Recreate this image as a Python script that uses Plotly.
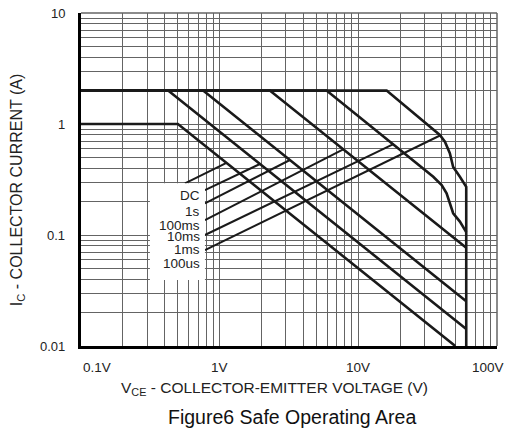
import math
import plotly.graph_objects as go

# ---- Safe operating area curves: collector-emitter voltage (V) vs collector current (A)
dc_v = [0.1, 0.5, 50]
dc_i = [1.0, 1.0, 0.01]

s1_v = [0.1, 0.425, 60]
s1_i = [2.0, 2.0, 0.0142]

ms100_v = [0.1, 0.76, 60]
ms100_i = [2.0, 2.0, 0.0253]

ms10_v = [0.1, 2.3, 60]
ms10_i = [2.0, 2.0, 0.0767]

ms1_v = [0.1, 5.9, 34.7, 39.9, 43.3, 45.7, 48.3, 54.0, 60]
ms1_i = [2.0, 2.0, 0.335, 0.282, 0.2375, 0.193, 0.157, 0.132, 0.106]

us100_v = [0.1, 16.0, 38.7, 42.1, 45.7, 47.0, 48.3, 54.0, 60, 60]
us100_i = [2.0, 2.0, 0.796, 0.693, 0.545, 0.457, 0.41, 0.335, 0.272, 0.01]

# ---- Curve labels and their leader lines (start / end points in V, A)
label_names = ["DC", "1s", "100ms", "10ms", "1ms", "100us"]
leader_start_v = [0.562, 0.783, 0.783, 0.783, 0.783, 0.783]
leader_start_i = [0.292, 0.254, 0.193, 0.136, 0.100, 0.073]
leader_end_v = [1.12, 1.95, 3.21, 7.78, 17.9, 39.8]
leader_end_i = [0.446, 0.436, 0.474, 0.59, 0.66, 0.80]

# ---- Axis ticks
x_tick_values = [0.1, 1, 10, 100]
x_tick_labels = ["0.1V", "1V", "10V", "100V"]
y_tick_values = [10, 1, 0.1, 0.01]
y_tick_labels = ["10", "1", "0.1", "0.01"]

# ---- Styling / placement
FONT = "Liberation Sans, Arial, Helvetica, sans-serif"
GRID = "#646464"
INK = "#1a1a1a"
CURVE_W = 2.6
LEADER_W = 2.0
label_anchor_v = 0.728
label_center_i = [0.229, 0.162, 0.123, 0.0966, 0.0733, 0.0556]
box_v = (0.314, 0.783)
box_i = (0.0393, 0.292)

grid_x = [m * 10 ** e for e in (-1, 0, 1) for m in range(1, 10)] + [100]
grid_y = [m * 10 ** e for e in (-2, -1, 0) for m in range(1, 10)] + [10]

fig = go.Figure()

for vv, ii in [(dc_v, dc_i), (s1_v, s1_i), (ms100_v, ms100_i),
               (ms10_v, ms10_i), (ms1_v, ms1_i), (us100_v, us100_i)]:
    fig.add_trace(go.Scatter(x=vv, y=ii, mode="lines",
                             line=dict(color=INK, width=CURVE_W),
                             hoverinfo="skip"))

for sv, si, ev, ei in zip(leader_start_v, leader_start_i, leader_end_v, leader_end_i):
    fig.add_trace(go.Scatter(x=[sv, ev], y=[si, ei], mode="lines",
                             line=dict(color=INK, width=LEADER_W),
                             hoverinfo="skip"))

# white panel behind the curve labels
fig.add_trace(go.Scatter(
    x=[box_v[0], box_v[1], box_v[1], box_v[0], box_v[0]],
    y=[box_i[0], box_i[0], box_i[1], box_i[1], box_i[0]],
    mode="lines", fill="toself", fillcolor="white",
    line=dict(color="white", width=0), hoverinfo="skip"))

annotations = []
for name, yi in zip(label_names, label_center_i):
    annotations.append(dict(x=math.log10(label_anchor_v), y=math.log10(yi),
                            xref="x", yref="y", text=name, showarrow=False,
                            xanchor="right", yanchor="middle", borderpad=0,
                            font=dict(family=FONT, size=13.5, color="#222")))

for k, (v, t) in enumerate(zip(x_tick_values, x_tick_labels)):
    anchor = "left" if k == 0 else ("right" if k == len(x_tick_values) - 1 else "center")
    shift = 9 if anchor == "right" else 0
    annotations.append(dict(x=math.log10(v), y=0, xref="x", yref="paper",
                            text=t, showarrow=False, xanchor=anchor,
                            xshift=shift, yanchor="middle", yshift=-21,
                            font=dict(family=FONT, size=13.5, color="#222")))

for v, t in zip(y_tick_values, y_tick_labels):
    annotations.append(dict(x=0, y=math.log10(v), xref="paper", yref="y",
                            text=t, showarrow=False, xanchor="right",
                            yanchor="middle", xshift=-14,
                            font=dict(family=FONT, size=13, color="#222")))

annotations.append(dict(x=0.466, y=0, xref="paper", yref="paper",
                        text="V<sub>CE</sub> - COLLECTOR-EMITTER VOLTAGE (V)",
                        showarrow=False, xanchor="center", yanchor="middle",
                        yshift=-42, font=dict(family=FONT, size=15.5, color="#222")))
annotations.append(dict(x=0.508, y=0, xref="paper", yref="paper",
                        text="Figure6 Safe Operating Area",
                        showarrow=False, xanchor="center", yanchor="middle",
                        yshift=-71, font=dict(family=FONT, size=19.5, color="#111")))
annotations.append(dict(x=0, y=0.468, xref="paper", yref="paper",
                        text="I<sub>C</sub> - COLLECTOR CURRENT (A)",
                        showarrow=False, textangle=-90, xanchor="center",
                        yanchor="middle", xshift=-64,
                        font=dict(family=FONT, size=16, color="#222")))

shapes = [
    dict(type="line", xref="paper", yref="paper", x0=0, x1=1, y0=1, y1=1,
         line=dict(color=GRID, width=1.5)),
    dict(type="line", xref="paper", yref="paper", x0=1, x1=1, y0=0, y1=1,
         line=dict(color=GRID, width=1.5)),
]

fig.update_layout(
    width=506, height=430,
    margin=dict(l=81, r=9, t=13, b=84),
    paper_bgcolor="white", plot_bgcolor="white",
    showlegend=False,
    annotations=annotations,
    shapes=shapes,
)
fig.update_xaxes(type="log", range=[-1, 2], tickvals=grid_x,
                 showticklabels=False, ticks="", showgrid=True,
                 gridcolor=GRID, gridwidth=1, zeroline=False,
                 showline=True, linecolor="black", linewidth=2.5)
fig.update_yaxes(type="log", range=[-2, 1], tickvals=grid_y,
                 showticklabels=False, ticks="", showgrid=True,
                 gridcolor=GRID, gridwidth=1, zeroline=False,
                 showline=True, linecolor="black", linewidth=2.5)

fig.write_html("out.html")
